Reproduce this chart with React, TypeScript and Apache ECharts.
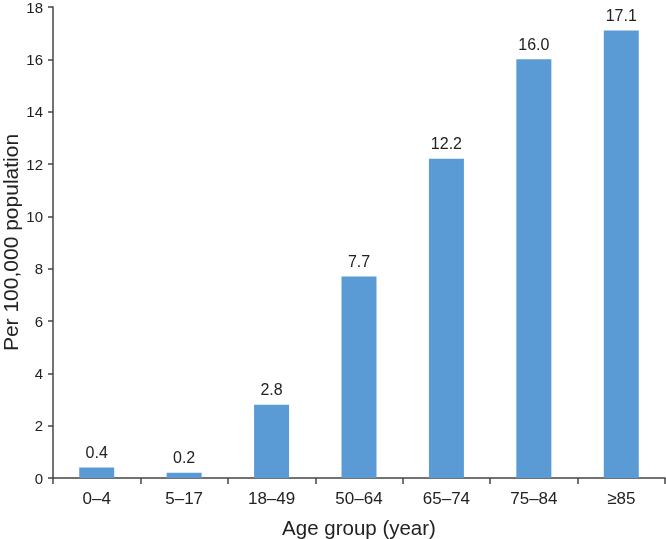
import React, { useEffect, useRef } from "react";
import * as echarts from "echarts";

const categories = ["0–4", "5–17", "18–49", "50–64", "65–74", "75–84", "≥85"];
const values = [0.4, 0.2, 2.8, 7.7, 12.2, 16.0, 17.1];
const yTicks = { min: 0, max: 18, interval: 2 };

export default function App() {
  const ref = useRef<HTMLDivElement>(null);
  useEffect(() => {
    const chart = echarts.init(ref.current!, null, { renderer: "svg" });
    chart.setOption({
      animation: false,
      grid: { left: 53, right: 1, top: 7, bottom: 61, containLabel: false, outerBoundsMode: "none" },
      xAxis: {
        type: "category",
        data: categories,
        name: "Age group (year)",
        nameLocation: "middle",
        nameGap: 39,
        nameMoveOverlap: false,
        nameTextStyle: { fontFamily: "Arial, Liberation Sans", fontSize: 20.5, color: "#222", verticalAlign: "top" },
        axisLine: { lineStyle: { color: "#444", width: 1.5 } },
        axisTick: { show: true, length: 6, alignWithLabel: false, lineStyle: { color: "#444", width: 1.5 } },
        axisLabel: { fontFamily: "Arial, Liberation Sans", fontSize: 17, color: "#222", margin: 12 },
      },
      yAxis: {
        type: "value",
        min: yTicks.min,
        max: yTicks.max,
        interval: yTicks.interval,
        name: "Per 100,000 population",
        nameLocation: "middle",
        nameGap: 32,
        nameMoveOverlap: false,
        nameTextStyle: { fontFamily: "Arial, Liberation Sans", fontSize: 21, lineHeight: 22, color: "#222" },
        axisLine: { show: true, lineStyle: { color: "#444", width: 1.5 } },
        axisTick: { show: true, length: 5, lineStyle: { color: "#444", width: 1.5 } },
        axisLabel: { fontFamily: "Liberation Sans, Arial", fontSize: 15, color: "#222", margin: 10 },
        splitLine: { show: false },
      },
      series: [
        {
          type: "bar",
          data: values,
          barWidth: 35,
          itemStyle: { color: "#5B9BD5" },
          label: {
            show: true,
            position: "top",
            distance: 7,
            formatter: (p: any) => p.value.toFixed(1),
            fontFamily: "Arial, Liberation Sans",
            fontSize: 16,
            color: "#222",
          },
        },
      ],
    });
    return () => chart.dispose();
  }, []);
  return <div ref={ref} style={{ width: 666, height: 539, position: "fixed", left: 0, top: 0 }} />;
}
